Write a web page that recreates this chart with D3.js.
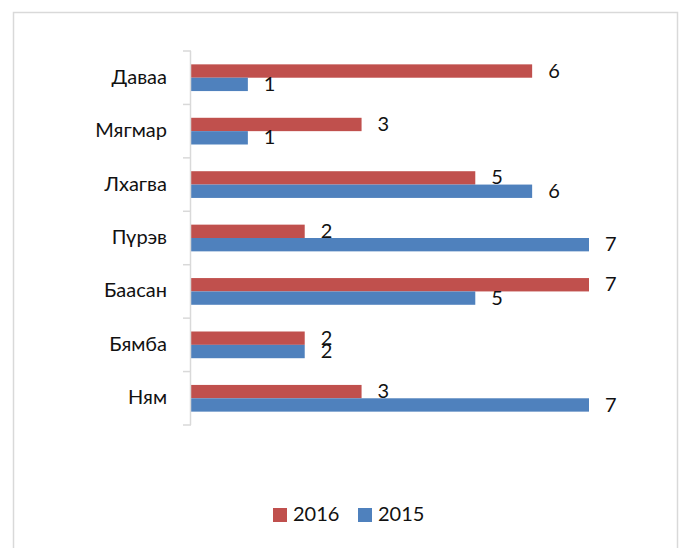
<!DOCTYPE html>
<html>
<head>
<meta charset="utf-8">
<script src="https://cdn.jsdelivr.net/npm/d3@7"></script>
<style>
  body { margin: 0; background: #fff; }
  svg { display: block; font-family: Lato, "Open Sans", sans-serif; }
</style>
</head>
<body>
<svg id="chart" width="680" height="548"></svg>
<script>
const categories = ["Даваа", "Мягмар", "Лхагва", "Пүрэв", "Баасан", "Бямба", "Ням"];
const seriesNames = ["2016", "2015"];
const values2016 = [6, 3, 5, 2, 7, 2, 3];
const values2015 = [1, 1, 6, 7, 5, 2, 7];
const colors = ["#C0504D", "#4F81BD"];

const svg = d3.select("#chart");
const axisX = 191, plotTop = 51, plotBottom = 425;

// chart border
svg.append("rect")
    .attr("x", 13.5).attr("y", 12.5)
    .attr("width", 664).attr("height", 560)
    .attr("fill", "none").attr("stroke", "#d9d9d9").attr("stroke-width", 1.5);

const x = d3.scaleLinear().domain([0, 7]).range([axisX, 589]);
const y = d3.scaleBand().domain(categories).range([plotTop, plotBottom])
    .paddingInner(0.5).paddingOuter(0.25);
const ySub = d3.scaleBand().domain(seriesNames).range([0, y.bandwidth()]);

const data = categories.map((c, i) => ({
    cat: c,
    vals: [
        { s: "2016", v: values2016[i] },
        { s: "2015", v: values2015[i] }
    ]
}));

// bars
const groups = svg.selectAll(".grp").data(data).join("g")
    .attr("transform", d => `translate(0,${y(d.cat)})`);

groups.selectAll("rect").data(d => d.vals).join("rect")
    .attr("x", x(0))
    .attr("y", d => ySub(d.s))
    .attr("width", d => x(d.v) - x(0))
    .attr("height", ySub.bandwidth())
    .attr("fill", (d, i) => colors[i]);

groups.selectAll("text").data(d => d.vals).join("text")
    .attr("x", d => x(d.v) + 16)
    .attr("y", d => ySub(d.s) + ySub.bandwidth() / 2 + 1.5)
    .attr("dominant-baseline", "middle")
    .attr("font-size", 20)
    .attr("fill", "#111")
    .text(d => d.v);

// vertical axis with ticks between categories
const step = y.step();
svg.append("line")
    .attr("x1", axisX - 0.5).attr("x2", axisX - 0.5)
    .attr("y1", plotTop).attr("y2", plotBottom)
    .attr("stroke", "#d9d9d9").attr("stroke-width", 1.5);
d3.range(categories.length + 1).forEach(k => {
    const ty = plotTop + k * step;
    svg.append("line")
        .attr("x1", axisX - 8).attr("x2", axisX)
        .attr("y1", ty).attr("y2", ty)
        .attr("stroke", "#d9d9d9").attr("stroke-width", 1.5);
});

svg.selectAll(".cat").data(categories).join("text")
    .attr("x", 167)
    .attr("y", d => y(d) + y.bandwidth() / 2 + 1)
    .attr("text-anchor", "end")
    .attr("dominant-baseline", "middle")
    .attr("font-size", 20)
    .attr("fill", "#111")
    .text(d => d);

// legend
const legendX = [273, 358];
seriesNames.forEach((s, i) => {
    svg.append("rect")
        .attr("x", legendX[i]).attr("y", 508)
        .attr("width", 14).attr("height", 14)
        .attr("fill", colors[i]);
    svg.append("text")
        .attr("x", legendX[i] + 20).attr("y", 516)
        .attr("dominant-baseline", "middle")
        .attr("font-size", 20)
        .attr("fill", "#111")
        .text(s);
});
</script>
</body>
</html>
